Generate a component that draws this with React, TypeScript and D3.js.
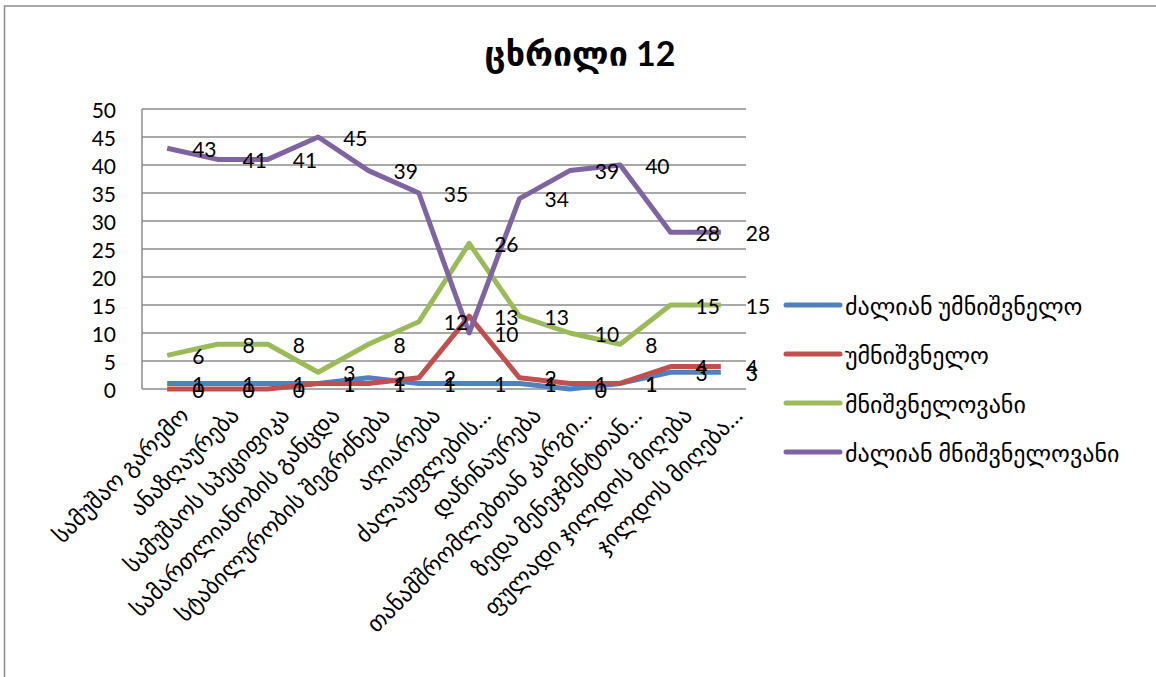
import { line as d3_line, scaleLinear, scalePoint } from "d3";
import type { FC } from "react";

const categories = [
  "სამუშაო გარემო",
  "ანაზღაურება",
  "სამუშაოს სპეციფიკა",
  "სამართლიანობის განცდა",
  "სტაბილურობის შეგრძნება",
  "აღიარება",
  "ძალაუფლების…",
  "დაწინაურება",
  "თანამშრომლებთან კარგი…",
  "ზედა მენეჯმენტთან…",
  "ფულადი ჯილდოს მიღება",
  "ჯილდოს მიღება…",
];

const veryUnimportant = [1, 1, 1, 1, 2, 1, 1, 1, 0, 1, 3, 3];
const unimportant = [0, 0, 0, 1, 1, 2, 13, 2, 1, 1, 4, 4];
const important = [6, 8, 8, 3, 8, 12, 26, 13, 10, 8, 15, 15];
const veryImportant = [43, 41, 41, 45, 39, 35, 10, 34, 39, 40, 28, 28];

const yTicks = [0, 5, 10, 15, 20, 25, 30, 35, 40, 45, 50];

const series = [
  { label: "ძალიან უმნიშვნელო", color: "#4F81BD", values: veryUnimportant },
  { label: "უმნიშვნელო", color: "#C0504D", values: unimportant },
  { label: "მნიშვნელოვანი", color: "#9BBB59", values: important },
  { label: "ძალიან მნიშვნელოვანი", color: "#8064A2", values: veryImportant },
];

const W = 1156;
const H = 677;
const plot = { left: 142, right: 746, top: 109, bottom: 389 };
const font = "Lato, 'DejaVu Sans', sans-serif";

const App: FC = () => {
  const x = scalePoint<number>()
    .domain(categories.map((_, i) => i))
    .range([plot.left, plot.right])
    .padding(0.5);
  const y = scaleLinear().domain([0, 50]).range([plot.bottom, plot.top]);

  const line = d3_line<number>()
    .x((_, i) => x(i)!)
    .y((d) => y(d));

  return (
    <div style={{ position: "fixed", left: 0, top: 0, background: "#fff" }}>
      <svg width={W} height={H} style={{ display: "block", fontFamily: font }}>
        <rect width={W} height={H} fill="#fff" />
        {/* Rahmen */}
        <path d={`M4.5,${H} V6 H${W}`} fill="none" stroke="#8c8c8c" strokeWidth={1.5} />

        {/* Titel */}
        <text x={580} y={66} textAnchor="middle" fontSize={34} fontWeight="bold" fill="#000">
          ცხრილი 12
        </text>

        {/* Gitterlinien */}
        {yTicks.map((t) => (
          <line
            key={t}
            x1={plot.left}
            x2={plot.right}
            y1={y(t)}
            y2={y(t)}
            stroke="#8c8c8c"
            strokeWidth={1.5}
          />
        ))}
        <line x1={plot.left} x2={plot.left} y1={plot.top} y2={plot.bottom} stroke="#8c8c8c" strokeWidth={1.5} />

        {/* Y-Achse */}
        {yTicks.map((t) => (
          <text key={t} x={116} y={y(t)} textAnchor="end" dominantBaseline="central" fontSize={21}>
            {t}
          </text>
        ))}

        {/* X-Achse */}
        {categories.map((c, i) => (
          <text
            key={i}
            transform={`translate(${x(i)! + 10},${404}) rotate(-45)`}
            textAnchor="end"
            dominantBaseline="hanging"
            fontSize={23}
          >
            {c}
          </text>
        ))}

        {/* Linien */}
        {series.map((s) => (
          <path
            key={s.label}
            d={line(s.values)!}
            fill="none"
            stroke={s.color}
            strokeWidth={5}
            strokeLinejoin="round"
          />
        ))}

        {/* Datenbeschriftungen */}
        {series.map((s) =>
          s.values.map((v, i) => (
            <text
              key={`${s.label}-${i}`}
              x={x(i)! + 25}
              y={y(v)}
              dominantBaseline="central"
              fontSize={21}
            >
              {v}
            </text>
          )),
        )}

        {/* Legende */}
        {series.map((s, i) => (
          <g key={s.label} transform={`translate(786,${305 + i * 49})`}>
            <line x1={0} x2={54} stroke={s.color} strokeWidth={5} strokeLinecap="round" />
            <text x={59} y={0} dominantBaseline="central" fontSize={24}>
              {s.label}
            </text>
          </g>
        ))}
      </svg>
    </div>
  );
};

export default App;
